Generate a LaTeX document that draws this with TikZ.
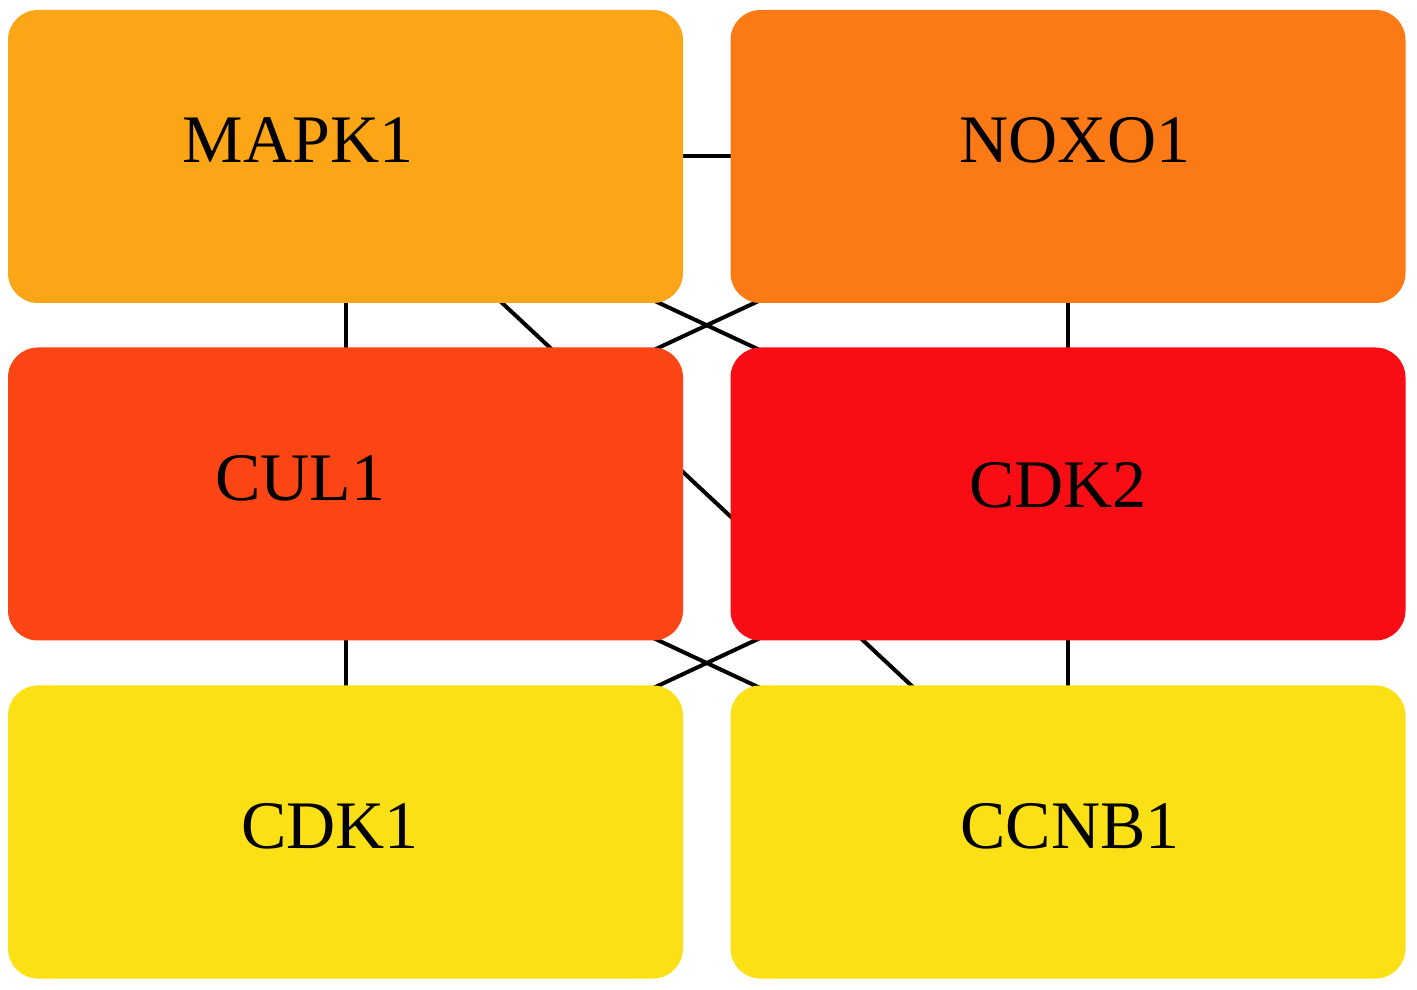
\documentclass[tikz,border=0pt]{standalone}
\usepackage{fontspec}
\setmainfont{Liberation Serif}
\usetikzlibrary{backgrounds}
\definecolor{cMAPK}{HTML}{FCA516}
\definecolor{cNOXO}{HTML}{FB7A16}
\definecolor{cCUL}{HTML}{FC4515}
\definecolor{cCDKtwo}{HTML}{F90D14}
\definecolor{cYel}{HTML}{FCE016}
\begin{document}
\begin{tikzpicture}[x=1pt,y=1pt,
  box/.style={rectangle,rounded corners=30pt,minimum width=675pt,minimum height=293pt,inner sep=0pt,draw=none},
  lab/.style={font=\fontsize{68}{70}\selectfont,text=black,inner sep=0pt},
  edge/.style={line width=4pt,black}]
\useasboundingbox (0,0) rectangle (1417,989);
\node[box,fill=cMAPK] (mapk) at (345.5,832.5) {};
\node[box,fill=cNOXO] (noxo) at (1068,832.5) {};
\node[box,fill=cCUL] (cul) at (345.5,495) {};
\node[box,fill=cCDKtwo] (cdk2) at (1068,495) {};
\node[box,fill=cYel] (cdk1) at (345.5,157) {};
\node[box,fill=cYel] (ccnb) at (1068,157) {};
\node[lab] (lmapk) at (298,849) {MAPK1};
\node[lab] (lnoxo) at (1075,849) {NOXO1};
\node[lab] (lcul) at (300,511) {CUL1};
\node[lab] (lcdk2) at (1058,504) {CDK2};
\node[lab] (lcdk1) at (330,163) {CDK1};
\node[lab] (lccnb) at (1070,163) {CCNB1};
\begin{pgfonlayer}{background}
\draw[edge] (mapk.center) -- (noxo.center);
\draw[edge] (mapk.center) -- (cul.center);
\draw[edge] (noxo.center) -- (cdk2.center);
\draw[edge] (mapk.center) -- (cdk2.center);
\draw[edge] (noxo.center) -- (cul.center);
\draw[edge] (mapk.center) -- (ccnb.center);
\draw[edge] (cul.center) -- (cdk1.center);
\draw[edge] (cdk2.center) -- (ccnb.center);
\draw[edge] (cul.center) -- (ccnb.center);
\draw[edge] (cdk2.center) -- (cdk1.center);
\end{pgfonlayer}
\end{tikzpicture}
\end{document}
